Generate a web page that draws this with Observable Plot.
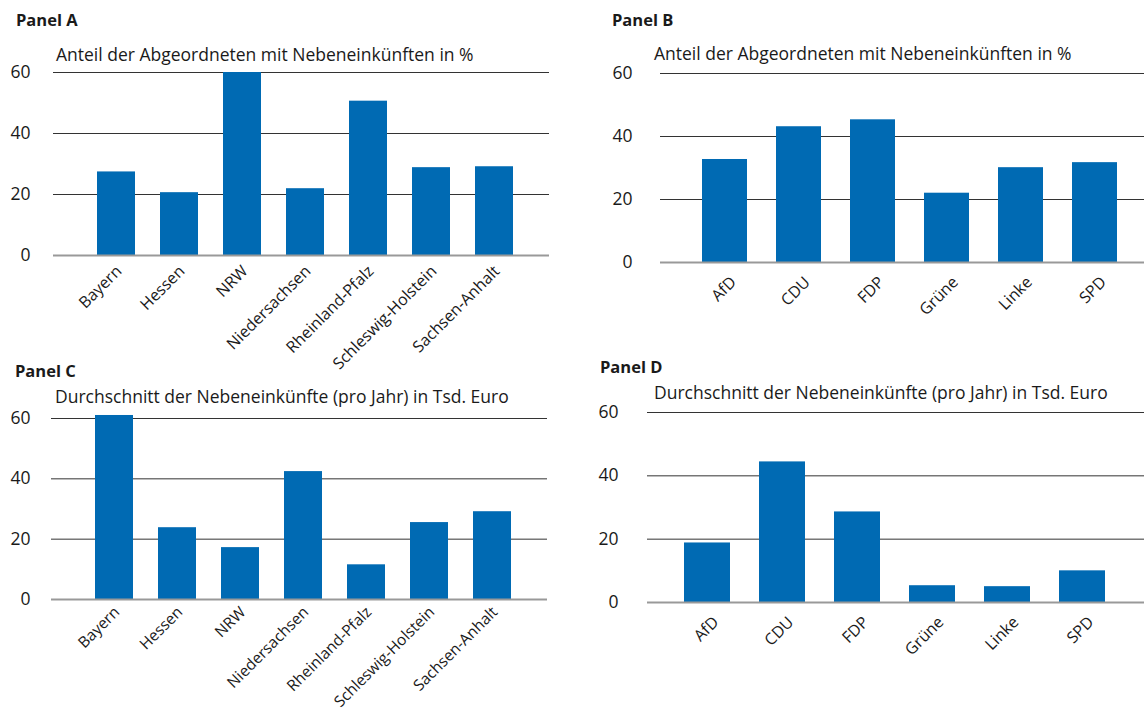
<!DOCTYPE html>
<html>
<head>
<meta charset="utf-8">
<script src="https://cdn.jsdelivr.net/npm/d3@7"></script>
<script src="https://cdn.jsdelivr.net/npm/@observablehq/plot@0.6"></script>
<style>
  html, body { margin: 0; padding: 0; background: #fff; }
  #root { position: relative; width: 1144px; height: 713px; overflow: hidden; font-family: "Open Sans", sans-serif; color: #1a1a1a; }
  .panel { position: absolute; }
  .panel svg { overflow: visible; }
  .lbl { position: absolute; white-space: nowrap; line-height: 18px; font-size: 17.5px; }
  .ttl { font-weight: 700; font-size: 16.5px; }
</style>
</head>
<body>
<div id="root"></div>
<script>
// ---- data ----
const states = ["Bayern", "Hessen", "NRW", "Niedersachsen", "Rheinland-Pfalz", "Schleswig-Holstein", "Sachsen-Anhalt"];
const parties = ["AfD", "CDU", "FDP", "Grüne", "Linke", "SPD"];
const shareStates = [27.4, 20.6, 60.0, 21.9, 50.6, 28.8, 29.1];
const shareParties = [32.7, 43.1, 45.3, 22.0, 30.1, 31.7];
const incomeStates = [61.0, 23.8, 17.2, 42.4, 11.5, 25.5, 29.1];
const incomeParties = [18.8, 44.4, 28.6, 5.3, 5.0, 10.0];
const yTicks = [0, 20, 40, 60];
const panelTitles = ["Panel A", "Panel B", "Panel C", "Panel D"];
const subtitleShare = "Anteil der Abgeordneten mit Nebeneinkünften in %";
const subtitleIncome = "Durchschnitt der Nebeneinkünfte (pro Jahr) in Tsd. Euro";

const BLUE = "#006AB3";
const root = document.getElementById("root");

function makePanel(cats, vals, o) {
  const table = cats.map((c, i) => ({cat: c, val: vals[i]}));
  const chart = Plot.plot({
    width: o.width,
    height: o.height,
    marginTop: o.mt,
    marginBottom: o.mb,
    marginLeft: o.ml,
    marginRight: o.mr,
    style: {fontFamily: "'Open Sans', sans-serif", fontSize: "16px", color: "#1a1a1a", background: "transparent", overflow: "visible"},
    x: {domain: cats, paddingInner: 0.39, paddingOuter: 0.195, insetLeft: o.il, insetRight: o.ir, label: null},
    y: {domain: [0, 60], label: null},
    marks: [
      Plot.ruleY(yTicks.filter(d => d > 0), {stroke: "#333", strokeWidth: 1}),
      Plot.barY(table, {x: "cat", y: "val", fill: BLUE}),
      Plot.ruleY([0], {stroke: "#999", strokeWidth: 2}),
      Plot.axisY({ticks: yTicks, tickSize: 0, tickPadding: o.tp, label: null, fontSize: 17.5}),
      Plot.axisX({tickSize: 0, tickRotate: -45, tickPadding: o.xp, dx: o.xdx, label: null, fontSize: o.xfs})
    ]
  });
  const div = document.createElement("div");
  div.className = "panel";
  div.style.left = o.left + "px";
  div.style.top = o.top + "px";
  div.appendChild(chart);
  root.appendChild(div);
}

function addText(txt, x, baseline, cls) {
  const d = document.createElement("div");
  d.className = "lbl " + (cls || "");
  d.textContent = txt;
  d.style.left = x + "px";
  d.style.top = (baseline - 15.5) + "px";
  root.appendChild(d);
}

makePanel(states, shareStates, {left: 0, top: 0, width: 572, height: 350, mt: 72, mb: 95, ml: 53, mr: 23, il: 30, ir: 21, tp: 23, xp: 13, xdx: 2.5, xfs: 16});
makePanel(parties, shareParties, {left: 580, top: 0, width: 564, height: 350, mt: 73, mb: 88, ml: 80, mr: 0, il: 27, ir: 12.5, tp: 28, xp: 17, xdx: 8.5, xfs: 16});
makePanel(states, incomeStates, {left: 0, top: 350, width: 572, height: 363, mt: 68, mb: 114, ml: 51, mr: 25, il: 29.7, ir: 20.7, tp: 21, xp: 10, xdx: 2.5, xfs: 15.5});
makePanel(parties, incomeParties, {left: 580, top: 350, width: 564, height: 363, mt: 62, mb: 111, ml: 67, mr: 0, il: 21.4, ir: 24.4, tp: 29, xp: 17, xdx: 8.5, xfs: 16});

addText(panelTitles[0], 16, 26, "ttl");
addText(subtitleShare, 56, 60);
addText(panelTitles[1], 612, 26, "ttl");
addText(subtitleShare, 654, 59);
addText(panelTitles[2], 15, 377, "ttl");
addText(subtitleIncome, 55, 402);
addText(panelTitles[3], 600, 373, "ttl");
addText(subtitleIncome, 654, 398);
</script>
</body>
</html>
